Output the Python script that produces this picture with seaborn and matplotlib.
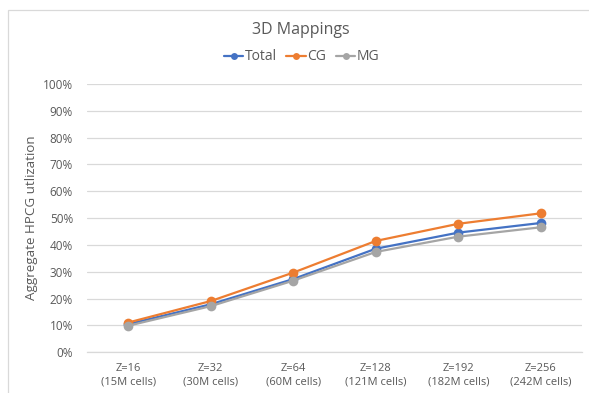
import matplotlib
matplotlib.use("Agg")
import matplotlib.pyplot as plt
from matplotlib.patches import Rectangle
from matplotlib.ticker import PercentFormatter
import seaborn as sns
import pandas as pd

# Problem sizes along the x axis
categories = ["Z=16\n(15M cells)", "Z=32\n(30M cells)", "Z=64\n(60M cells)",
              "Z=128\n(121M cells)", "Z=192\n(182M cells)", "Z=256\n(242M cells)"]

# Aggregate HPCG utilization (fraction) per mapping
total = [0.105, 0.179, 0.273, 0.386, 0.446, 0.482]
cg = [0.111, 0.191, 0.297, 0.415, 0.479, 0.518]
mg = [0.099, 0.172, 0.267, 0.374, 0.431, 0.466]

series_names = ["Total", "CG", "MG"]
colors = ["#4472C4", "#ED7D31", "#A5A5A5"]

rows = []
for name, vals in zip(series_names, [total, cg, mg]):
    for i, v in enumerate(vals):
        rows.append({"pos": i, "util": v, "series": name})
df = pd.DataFrame(rows)

sns.set_theme(style="white")
plt.rcParams["font.family"] = ["Open Sans", "DejaVu Sans"]
text_color = "#595959"
grid_color = "#D9D9D9"

fig = plt.figure(figsize=(5.89, 3.93), dpi=100)
ax = fig.add_axes([87 / 589, 1 - 352.3 / 393, (582 - 87) / 589, (352.3 - 84) / 393])

sns.lineplot(data=df, x="pos", y="util", hue="series", hue_order=series_names,
             palette=colors, marker="o", markersize=7, markeredgewidth=0,
             linewidth=1.6, ax=ax, legend=False, zorder=3)

ax.set_xlim(-0.5, len(categories) - 0.5)
ax.set_ylim(0, 1.0)
ax.set_yticks([i / 10 for i in range(11)])
ax.yaxis.set_major_formatter(PercentFormatter(1.0, decimals=0))
ax.set_xticks(range(len(categories)))
ax.set_xticklabels(categories, fontsize=8, color=text_color, linespacing=1.25)
ax.tick_params(axis="y", labelsize=8.5, labelcolor=text_color, length=0, pad=10)
ax.tick_params(axis="x", length=0, pad=8)
ax.grid(axis="y", color=grid_color, linewidth=0.9)
ax.set_axisbelow(True)
for side in ["left", "right", "top"]:
    ax.spines[side].set_visible(False)
ax.spines["bottom"].set_color(grid_color)
ax.spines["bottom"].set_linewidth(0.9)
ax.set_xlabel("")
ax.set_ylabel("Aggregate HPCG utlization", fontsize=9.6, color=text_color)
ax.yaxis.set_label_coords((38 - 87) / 495, 0.5)

fig.text(0.51, 1 - 30 / 393, "3D Mappings", ha="center", va="center",
         fontsize=11.5, color=text_color)

handles = [plt.Line2D([], [], color=c, marker="o", markersize=5, markeredgewidth=0,
                      linewidth=1.6) for c in colors]
fig.legend(handles, series_names, loc="center", bbox_to_anchor=(0.512, 1 - 57 / 393),
           ncol=3, frameon=False, fontsize=10, labelcolor=text_color,
           handlelength=1.4, handletextpad=0.1, columnspacing=0.7)

# light chart-area border
fig.patches.append(Rectangle((8 / 589, -0.1), 1.2, 1 - 10 / 393 + 0.1,
                             transform=fig.transFigure, fill=False,
                             edgecolor=grid_color, linewidth=0.9))

fig.savefig("out.png", dpi=100)
